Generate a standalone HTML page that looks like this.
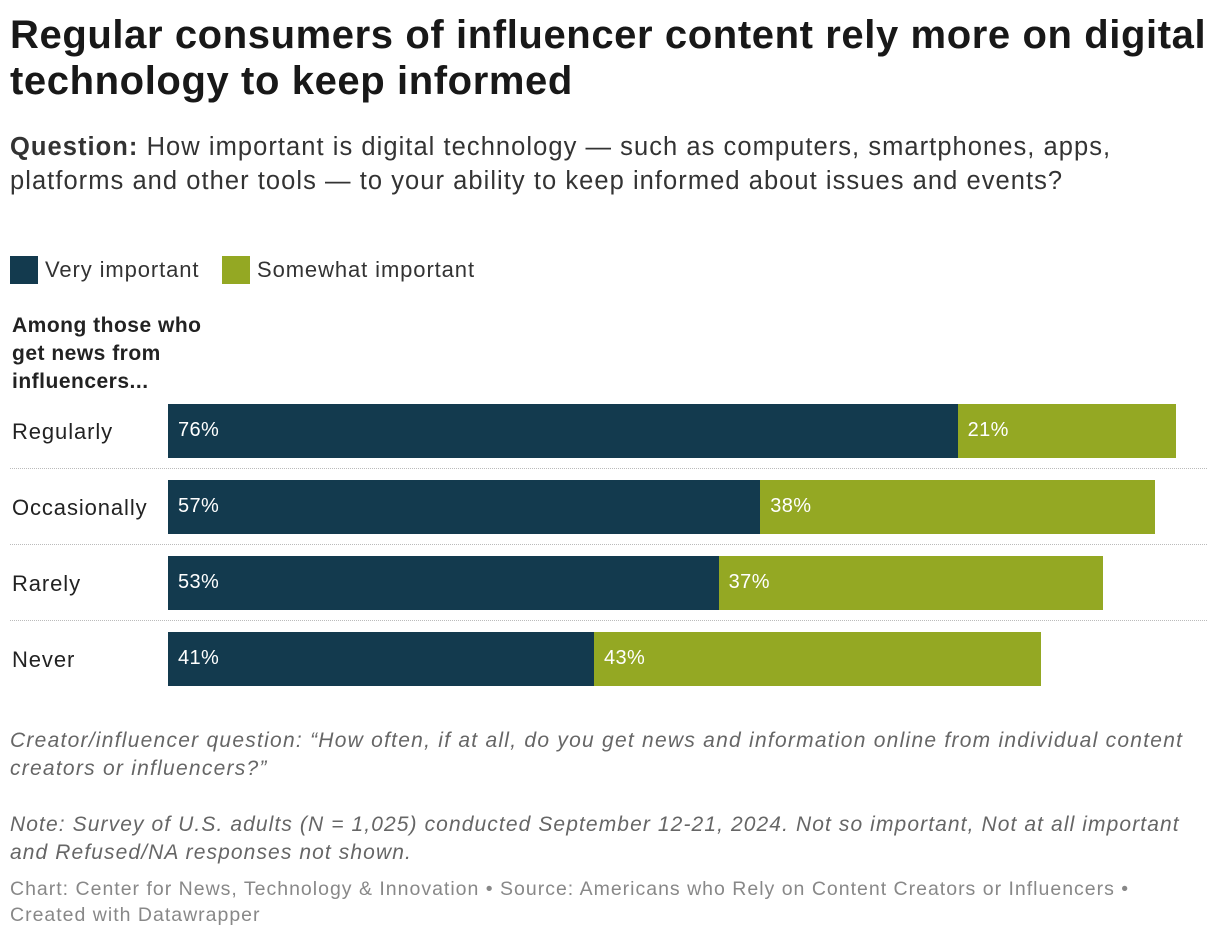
<!DOCTYPE html>
<html><head><meta charset="utf-8"><style>
body{margin:0;width:1220px;height:940px;background:#fff;font-family:"Liberation Sans",Roboto,sans-serif;color:#181818;position:relative;overflow:hidden}
.a{position:absolute;white-space:nowrap}
h1{position:absolute;left:10px;top:12px;margin:0;font-size:40px;line-height:46px;font-weight:bold;width:1215px;letter-spacing:0.6px;white-space:nowrap}
.q{left:10px;top:130px;font-size:25.5px;line-height:34px;color:#333;letter-spacing:1.05px}
.leg{top:256px;font-size:22px;color:#333;display:flex;align-items:center;letter-spacing:0.9px}
.sw{width:28px;height:28px;display:inline-block;margin-right:7px}
.lab{left:12px;font-size:22px;color:#222;letter-spacing:0.9px}
.val{font-size:20px;color:#fff;letter-spacing:0.4px}
.note{left:10px;font-size:21px;line-height:28px;font-style:italic;color:#666}
.sep{left:10px;width:1197px;border-top:1px dotted #bbb;height:0}
</style></head><body>
<h1>Regular consumers of influencer content rely more on digital<br>technology to keep informed</h1>
<div class="a q"><b>Question:</b> How important is digital technology — such as computers, smartphones, apps,<br>platforms and other tools — to your ability to keep informed about issues and events?</div>
<div class="a leg" style="left:10px"><span class="sw" style="background:#133a4e"></span>Very important</div>
<div class="a leg" style="left:222px"><span class="sw" style="background:#94a823"></span>Somewhat important</div>
<div class="a" style="left:12px;top:312px;font-size:21px;line-height:28px;font-weight:bold;color:#222;letter-spacing:0.5px">Among those who<br>get news from<br>influencers...</div>
<div id="chart"></div>
<div class="a note" style="top:727px;letter-spacing:1.25px">Creator/influencer question: “How often, if at all, do you get news and information online from individual content<br>creators or influencers?”</div>
<div class="a note" style="top:811px;letter-spacing:1.1px">Note: Survey of U.S. adults (N = 1,025) conducted September 12-21, 2024. Not so important, Not at all important<br>and Refused/NA responses not shown.</div>
<div class="a" style="left:10px;top:876px;font-size:19.5px;line-height:26px;color:#888;letter-spacing:1.0px">Chart: Center for News, Technology &amp; Innovation • Source: Americans who Rely on Content Creators or Influencers •<br>Created with Datawrapper</div>
<script>
const categories=["Regularly","Occasionally","Rarely","Never"];
const veryImportant=[76,57,53,41];
const somewhatImportant=[21,38,37,43];
const x0=168,pxPer=10.39,top0=404,step=76,bh=54;
function xs(v){return v*pxPer;}
const c=document.getElementById('chart');
categories.forEach((cat,i)=>{
  const y=top0+i*step;
  const l=document.createElement('div');l.className='a lab';l.style.top=(y+15)+'px';l.textContent=cat;
  
  c.appendChild(l);
  const b1=document.createElement('div');b1.className='a';
  b1.style.cssText=`left:${x0}px;top:${y}px;width:${xs(veryImportant[i])}px;height:${bh}px;background:#133a4e`;
  
  c.appendChild(b1);
  const b2=document.createElement('div');b2.className='a';
  b2.style.cssText=`left:${x0+xs(veryImportant[i])}px;top:${y}px;width:${xs(somewhatImportant[i])}px;height:${bh}px;background:#94a823`;
  
  c.appendChild(b2);
  const v1=document.createElement('div');v1.className='a val';v1.style.left=(x0+10)+'px';v1.style.top=(y+15)+'px';v1.textContent=veryImportant[i]+'%';
  
  c.appendChild(v1);
  const v2=document.createElement('div');v2.className='a val';v2.style.left=(x0+xs(veryImportant[i])+10)+'px';v2.style.top=(y+15)+'px';v2.textContent=somewhatImportant[i]+'%';
  
  c.appendChild(v2);
  if(i<categories.length-1){const s=document.createElement('div');s.className='a sep';s.style.top=(y+bh+10)+'px';
  
  c.appendChild(s);}
});
</script>
</body></html>
